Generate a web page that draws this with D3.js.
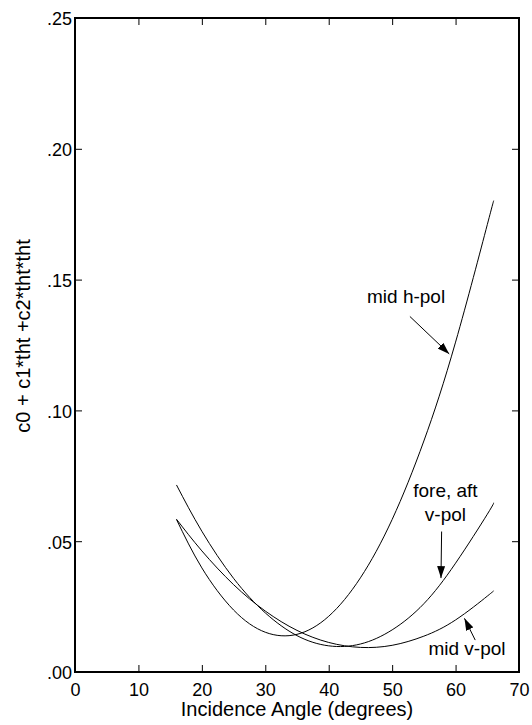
<!DOCTYPE html>
<html>
<head>
<meta charset="utf-8">
<script src="https://cdn.jsdelivr.net/npm/d3@7"></script>
<style>
  body { margin: 0; background: #fff; }
  text { font-family: "Liberation Sans", Arial, Helvetica, sans-serif; fill: #000; }
</style>
</head>
<body>
<div id="chart"></div>
<script>
// Values
const angles = [16, 20, 25, 30, 35, 40, 45, 50, 55, 60, 65, 66];
const midHPol = [0.0583, 0.0398, 0.0237, 0.0152, 0.0144, 0.0213, 0.0360, 0.0583, 0.0883, 0.1261, 0.1710, 0.1800];
const foreAftVPol = [0.0715, 0.0538, 0.0358, 0.0226, 0.0139, 0.0100, 0.0107, 0.0161, 0.0261, 0.0416, 0.0603, 0.0647];
const midVPol = [0.0584, 0.0463, 0.0334, 0.0233, 0.0159, 0.0113, 0.0094, 0.0102, 0.0137, 0.0199, 0.0290, 0.0310];

const xTicks = [0, 10, 20, 30, 40, 50, 60, 70];
const yTicks = [0, 0.05, 0.10, 0.15, 0.20, 0.25];
const yTickLabels = [".00", ".05", ".10", ".15", ".20", ".25"];

// Annotations: label lines and arrow (tail -> tip), in data units
const notes = [
  { lines: ["mid h-pol"], x: 52.2, y: 0.1411, tail: [52.8, 0.1359], tip: [59.0, 0.1216] },
  { lines: ["fore, aft", "v-pol"], x: 58.4, y: 0.0670, tail: [57.8, 0.0537], tip: [57.7, 0.0359] },
  { lines: ["mid v-pol"], x: 61.8, y: 0.0065, tail: [63.1, 0.0122], tip: [61.4, 0.0205] }
];

const margin = { top: 18, right: 13, bottom: 53, left: 75 };
const width = 532 - margin.left - margin.right;
const height = 725 - margin.top - margin.bottom;

const x = d3.scaleLinear().domain([0, 70]).range([0, width]);
const y = d3.scaleLinear().domain([0, 0.25]).range([height, 0]);

const svg = d3.select("#chart")
  .append("svg")
  .attr("width", 532)
  .attr("height", 725)
  .append("g")
  .attr("transform", `translate(${margin.left},${margin.top})`);

svg.append("defs").append("marker")
  .attr("id", "head")
  .attr("viewBox", "0 0 12 8")
  .attr("refX", 12)
  .attr("refY", 4)
  .attr("markerWidth", 12)
  .attr("markerHeight", 8)
  .attr("markerUnits", "userSpaceOnUse")
  .attr("orient", "auto")
  .append("path")
  .attr("d", "M0,0L12,4L0,8Z")
  .attr("fill", "#000");

// Axes, ticks pointing inward
const tickFont = "18px";
const titleFont = "20px";
const noteFont = "19px";

svg.append("g")
  .attr("transform", `translate(0,${height})`)
  .call(d3.axisBottom(x).tickValues(xTicks).tickSizeInner(-7).tickSizeOuter(0).tickPadding(11))
  .call(g => g.select(".domain").remove())
  .call(g => g.selectAll(".tick text").style("font-size", tickFont));

svg.append("g")
  .call(d3.axisTop(x).tickValues(xTicks.slice(1, -1)).tickSizeInner(-7).tickSizeOuter(0).tickFormat(""))
  .call(g => g.select(".domain").remove());

svg.append("g")
  .call(d3.axisLeft(y).tickValues(yTicks).tickSizeInner(-7).tickSizeOuter(0).tickPadding(3)
    .tickFormat((d, i) => yTickLabels[i]))
  .call(g => g.select(".domain").remove())
  .call(g => g.selectAll(".tick text").style("font-size", tickFont).attr("dy", "0.38em"));

svg.append("g")
  .attr("transform", `translate(${width},0)`)
  .call(d3.axisRight(y).tickValues(yTicks.slice(1, -1)).tickSizeInner(-7).tickSizeOuter(0).tickFormat(""))
  .call(g => g.select(".domain").remove());

svg.selectAll(".tick line").attr("stroke", "#000").attr("stroke-width", 1);

// frame
svg.append("rect")
  .attr("width", width)
  .attr("height", height)
  .attr("fill", "none")
  .attr("stroke", "#000")
  .attr("stroke-width", 2);

// Axis titles
svg.append("text")
  .attr("x", width / 2)
  .attr("y", height + 44)
  .attr("text-anchor", "middle")
  .style("font-size", titleFont)
  .text("Incidence Angle (degrees)");

svg.append("text")
  .attr("transform", "rotate(-90)")
  .attr("x", -318)
  .attr("y", -45)
  .attr("text-anchor", "middle")
  .style("font-size", titleFont)
  .text("c0 + c1*tht +c2*tht*tht");

// Curves
const line = d3.line()
  .x((d, i) => x(angles[i]))
  .y(d => y(d))
  .curve(d3.curveNatural);

[midHPol, foreAftVPol, midVPol].forEach(series => {
  svg.append("path")
    .datum(series)
    .attr("fill", "none")
    .attr("stroke", "#000")
    .attr("stroke-width", 1)
    .attr("d", line);
});

// Annotations
notes.forEach(n => {
  const t = svg.append("text")
    .attr("x", x(n.x))
    .attr("y", y(n.y))
    .attr("text-anchor", "middle")
    .style("font-size", noteFont);
  n.lines.forEach((s, i) => {
    t.append("tspan")
      .attr("x", x(n.x))
      .attr("dy", i === 0 ? 0 : "1.26em")
      .text(s);
  });
  svg.append("line")
    .attr("x1", x(n.tail[0]))
    .attr("y1", y(n.tail[1]))
    .attr("x2", x(n.tip[0]))
    .attr("y2", y(n.tip[1]))
    .attr("stroke", "#000")
    .attr("stroke-width", 1)
    .attr("marker-end", "url(#head)");
});
</script>
</body>
</html>
